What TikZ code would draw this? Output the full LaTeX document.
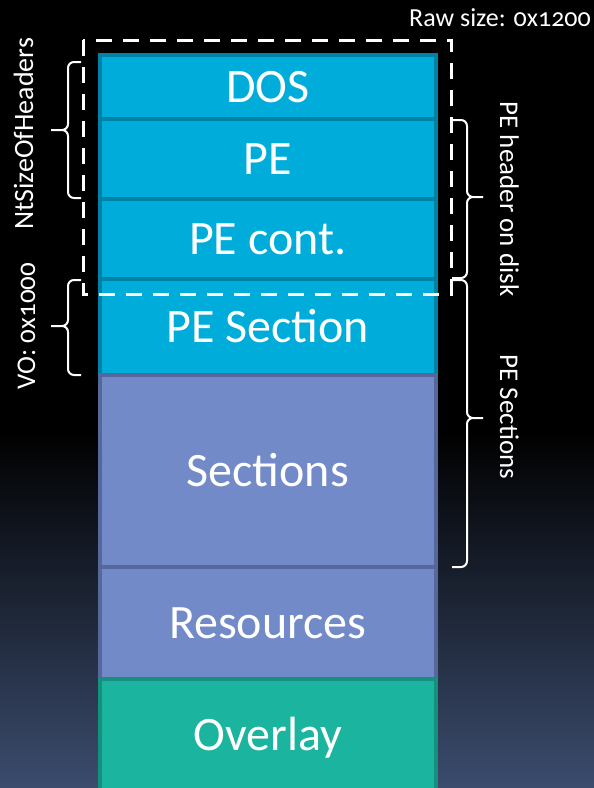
\documentclass[tikz,border=0pt]{standalone}
\usepackage{fontspec}
\setmainfont{Carlito}[Numbers=OldStyle]
\usepackage{tikz}
\usetikzlibrary{positioning}
\definecolor{hdrfill}{HTML}{00ADDA}
\definecolor{hdrline}{HTML}{0082A6}
\definecolor{secfill}{HTML}{738AC8}
\definecolor{secline}{HTML}{56679B}
\definecolor{ovlfill}{HTML}{1BB49F}
\definecolor{ovlline}{HTML}{15907E}
\definecolor{bgbot}{HTML}{3B4C6D}

\begin{document}
\begin{tikzpicture}[x=1pt, y=-1pt,
  block/.style={draw, line width=4pt, outer sep=0pt, inner sep=2pt,
    minimum width=336.5pt, text=white, text height=31pt, text depth=0pt,
    font=\fontsize{48}{50}\selectfont},
  hdrblock/.style={block, fill=hdrfill, draw=hdrline},
  secblock/.style={block, fill=secfill, draw=secline},
  ovlblock/.style={block, fill=ovlfill, draw=ovlline},
  brc/.style={white, line width=2pt, rounded corners=6pt},
  lbl/.style={text=white, inner sep=0pt, font=\fontsize{27}{29}\selectfont}]
\useasboundingbox (0,0) rectangle (594,788);
\fill[black] (0,0) rectangle (594,788);
\shade[top color=black, bottom color=bgbot] (0,430) rectangle (594,788);
%
\node[hdrblock, minimum height=64pt] (dos) at (267.75,87) {DOS};
\node[hdrblock, minimum height=80pt, below=0pt of dos] (pe) {PE};
\node[hdrblock, minimum height=80pt, below=0pt of pe] (pecont) {PE cont.};
\node[hdrblock, minimum height=96pt, below=0pt of pecont] (pesec) {PE Section};
\node[secblock, minimum height=192pt, below=0pt of pesec] (sections) {Sections};
\node[secblock, minimum height=112pt, below=0pt of sections] (resources) {Resources};
\node[ovlblock, minimum height=112pt, below=0pt of resources] (overlay) {Overlay};
%
\draw[white, line width=3pt, dash pattern=on 16pt off 11pt] (83,40) rectangle (451,294);
\node[lbl, anchor=base east, font=\fontsize{26}{28}\selectfont] (rawsize) at (591,26) {Raw size: 0x1200};
%
\draw[brc] (81,62) -| (68,130) -- (51,130) (81,198) -| (68,130) -- (51,130);
\draw[brc] (81,280) -| (68,326) -- (51,326) (81,375) -| (68,326) -- (51,326);
\draw[brc] (452,120) -| (467,197) -- (483,197) (452,278) -| (467,197) -- (483,197);
\draw[brc] (452,280) -| (467,418) -- (483,418) (452,567) -| (467,418) -- (483,418);
%
\node[lbl, rotate=90, anchor=base, font=\fontsize{28}{30}\selectfont] (ntsize) at (33,134) {NtSizeOfHeaders};
\node[lbl, rotate=90, anchor=base] (vo) at (35,326) {VO: 0x1000};
\node[lbl, rotate=-90, anchor=base] (hdrdisk) at (500,199) {PE header on disk};
\node[lbl, rotate=-90, anchor=base] (pesecs) at (500,417) {PE Sections};
\end{tikzpicture}
\end{document}
